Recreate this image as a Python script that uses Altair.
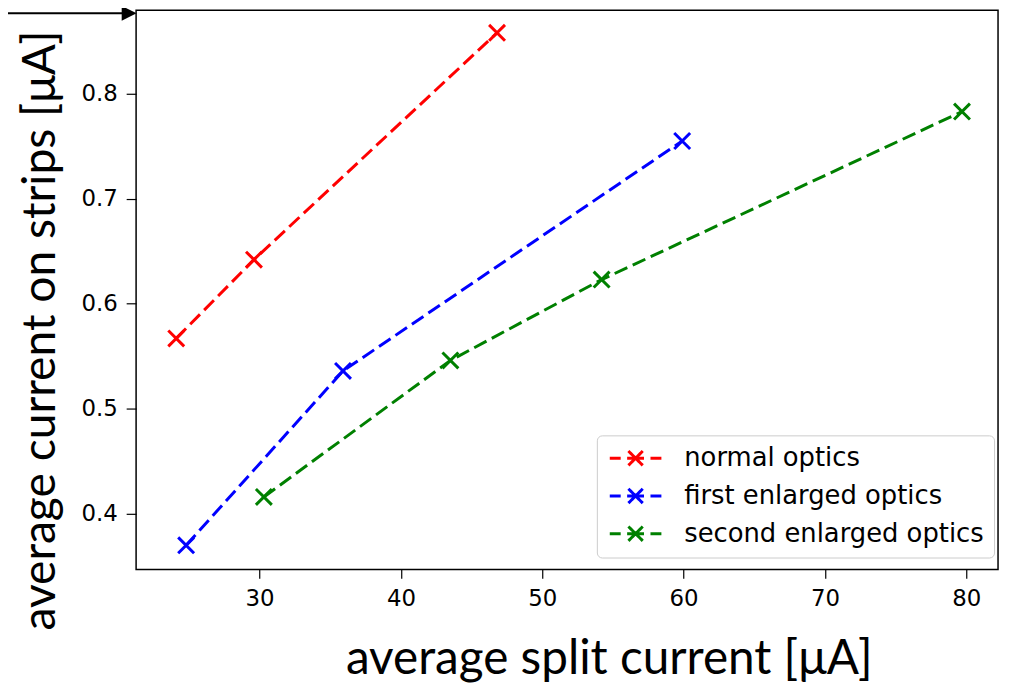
import altair as alt
import pandas as pd

series_names = ["normal optics", "first enlarged optics", "second enlarged optics"]
series_colors = ["#ff0000", "#0000ff", "#008000"]

normal_x = [24.1, 29.6, 46.8]
normal_y = [0.567, 0.642, 0.858]
first_x = [24.8, 35.9, 59.9]
first_y = [0.370, 0.536, 0.755]
second_x = [30.3, 43.5, 54.2, 79.7]
second_y = [0.416, 0.546, 0.623, 0.783]

x_ticks = [30, 40, 50, 60, 70, 80]
y_ticks = [0.4, 0.5, 0.6, 0.7, 0.8]

rows = []
for name, xs, ys in zip(series_names, [normal_x, first_x, second_x], [normal_y, first_y, second_y]):
    for i, (a, b) in enumerate(zip(xs, ys)):
        rows.append({"series": name, "split": a, "strips": b, "order": i})
df = pd.DataFrame(rows)

W, H = 868, 563

legend_symbol = (
    "M-2.6,0L-1.5,0M-0.85,0L0.85,0M1.5,0L2.6,0"
    "M-0.72,-0.72L0.72,0.72M-0.72,0.72L0.72,-0.72"
)

color = alt.Color(
    "series:N",
    scale=alt.Scale(domain=series_names, range=series_colors),
    sort=series_names,
    legend=alt.Legend(
        title=None,
        orient="none",
        legendX=464,
        legendY=428,
        symbolType=legend_symbol,
        symbolSize=400,
        symbolOffset=16,
        symbolStrokeWidth=3,
        symbolDash=[1, 0],
        labelFont="DejaVu Sans",
        labelFontSize=26,
        labelColor="black",
        labelOffset=36,
        labelLimit=0,
        rowPadding=10,
        padding=10,
        strokeColor="#cccccc",
        fillColor="white",
        cornerRadius=5,
    ),
)

x_enc = alt.X(
    "split:Q",
    scale=alt.Scale(domain=[21.26, 82.25], nice=False, zero=False),
    axis=alt.Axis(
        values=x_ticks,
        format="d",
        tickSize=9,
        labelPadding=9,
        title="average split current [μA]",
        titleFontSize=48,
        titleX=476,
        titleY=105,
        titleAlign="center",
        titleBaseline="alphabetic",
    ),
)
y_enc = alt.Y(
    "strips:Q",
    scale=alt.Scale(domain=[0.347, 0.8794], nice=False, zero=False),
    axis=alt.Axis(
        values=y_ticks,
        format=".1f",
        tickSize=10,
        labelPadding=9,
        title="average current on strips [μA]",
        titleFontSize=46.5,
        titleAngle=270,
        titleX=-82,
        titleY=322,
        titleAlign="center",
        titleBaseline="alphabetic",
    ),
)

lines = alt.Chart(df).mark_line(strokeDash=[14, 6], strokeWidth=3).encode(
    x=x_enc, y=y_enc, color=color, order="order:Q"
)
points = alt.Chart(df).mark_point(
    shape="M-1,-1L1,1M-1,1L1,-1", filled=False, size=256, strokeWidth=3, opacity=1
).encode(
    x="split:Q", y="strips:Q",
    color=alt.Color("series:N", scale=alt.Scale(domain=series_names, range=series_colors), legend=None),
)

arrow_data = pd.DataFrame({"k": [0]})
arrow_line = alt.Chart(arrow_data).mark_rule(color="black", strokeWidth=2).encode(
    x=alt.value(-137), x2=alt.value(-12), y=alt.value(3)
)
arrow_head = alt.Chart(arrow_data).mark_point(
    shape="M-1,-1L1,0L-1,1Z", filled=True, color="black", size=225, opacity=1
).encode(x=alt.value(-7), y=alt.value(3))

chart = (
    alt.layer(lines, points, arrow_line, arrow_head)
    .properties(
        width=W,
        height=H,
        autosize=alt.AutoSizeParams(type="none"),
        padding={"left": 129, "top": 0, "right": 5, "bottom": 113},
    )
    .configure_view(stroke="black", strokeWidth=1.5)
    .configure_axis(
        domain=False,
        grid=False,
        ticks=True,
        tickColor="black",
        tickWidth=1.2,
        labelFont="DejaVu Sans",
        labelFontSize=23,
        labelColor="black",
        titleFont="Lato",
        titleFontWeight="normal",
        titleColor="black",
    )
)

chart.save("out.html", embed_options={"renderer": "svg", "actions": False})
